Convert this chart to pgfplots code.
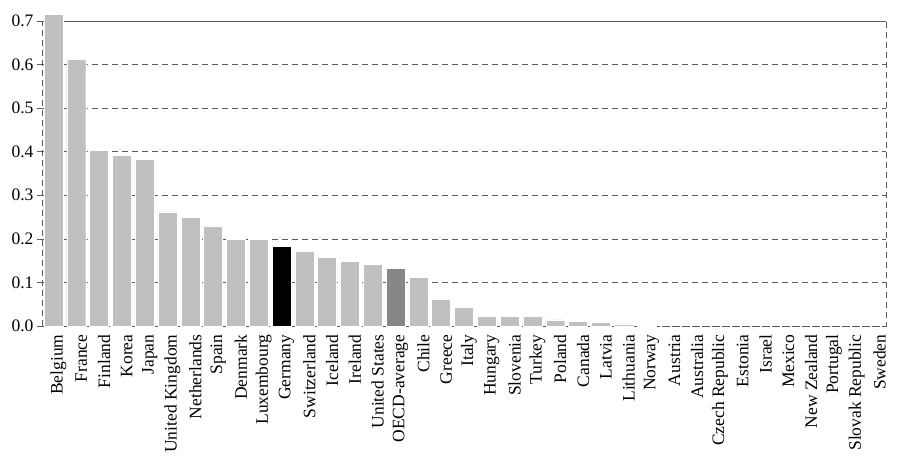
\documentclass[border=0pt]{standalone}
\usepackage{fontspec}
\setmainfont{Liberation Serif}
\usepackage{pgfplots}
\pgfplotsset{compat=1.18}
\definecolor{barg}{HTML}{BFC0C2}
\definecolor{oecd}{HTML}{878787}
\definecolor{gridc}{HTML}{5A5A5A}
\newcommand{\tlfont}{\fontsize{17.5}{20}\selectfont}
\begin{document}
\begin{tikzpicture}
\path[use as bounding box] (-42pt,-130pt) rectangle (858pt,326pt);
\begin{axis}[
  at={(0pt,0pt)}, anchor=south west,
  scale only axis, width=844pt, height=305pt,
  xmin=-0.5, xmax=36.5, ymin=0, ymax=0.7,
  clip=false,
  ybar, bar width=19pt,
  ytick={0,0.1,...,0.7},
  yticklabel style={font=\tlfont, text=black, /pgf/number format/fixed,/pgf/number format/precision=1,/pgf/number format/fixed zerofill,/pgf/number format/assume math mode=true},
  ymajorgrids,
  major grid style={gridc, dash pattern=on 6pt off 4pt, line width=0.7pt},
  axis line style={gridc, dash pattern=on 6pt off 4pt, line width=0.7pt},
  tick style={gridc, line width=0.7pt},
  tick align=outside,
  ytick pos=left, xtick pos=bottom,
  major tick length=5pt,
  xtick={0,...,36},
  xtick style={draw=none},
  minor xtick={-0.5,0.5,...,36.5},
  minor tick length=5pt,
  minor x tick style={gridc, line width=0.7pt},
  xticklabels={Belgium,France,Finland,Korea,Japan,United Kingdom,Netherlands,Spain,Denmark,Luxembourg,Germany,Switzerland,Iceland,Ireland,United States,OECD-average,Chile,Greece,Italy,Hungary,Slovenia,Turkey,Poland,Canada,Latvia,Lithuania,Norway,Austria,Australia,Czech Republic,Estonia,Israel,Mexico,New Zealand,Portugal,Slovak Republic,Sweden},
  xticklabel style={font=\tlfont, text=black, rotate=90, anchor=east, yshift=-5pt},
]
\addplot[bar shift=0pt, fill=barg, draw=white, line width=0.4pt] coordinates {
 (0,0.716) (1,0.613) (2,0.403) (3,0.392) (4,0.383) (5,0.262) (6,0.249) (7,0.230)
 (8,0.199) (9,0.199) (11,0.171) (12,0.158) (13,0.149) (14,0.141) (16,0.111)
 (17,0.062) (18,0.043) (19,0.022) (20,0.022) (21,0.022) (22,0.014) (23,0.011)
 (24,0.009) (25,0.005) (26,0.002)
};
\addplot[bar shift=0pt, fill=black, draw=white, line width=0.4pt] coordinates {(10,0.184)};
\addplot[bar shift=0pt, fill=oecd, draw=white, line width=0.4pt] coordinates {(15,0.132)};
\end{axis}
\end{tikzpicture}
\end{document}
